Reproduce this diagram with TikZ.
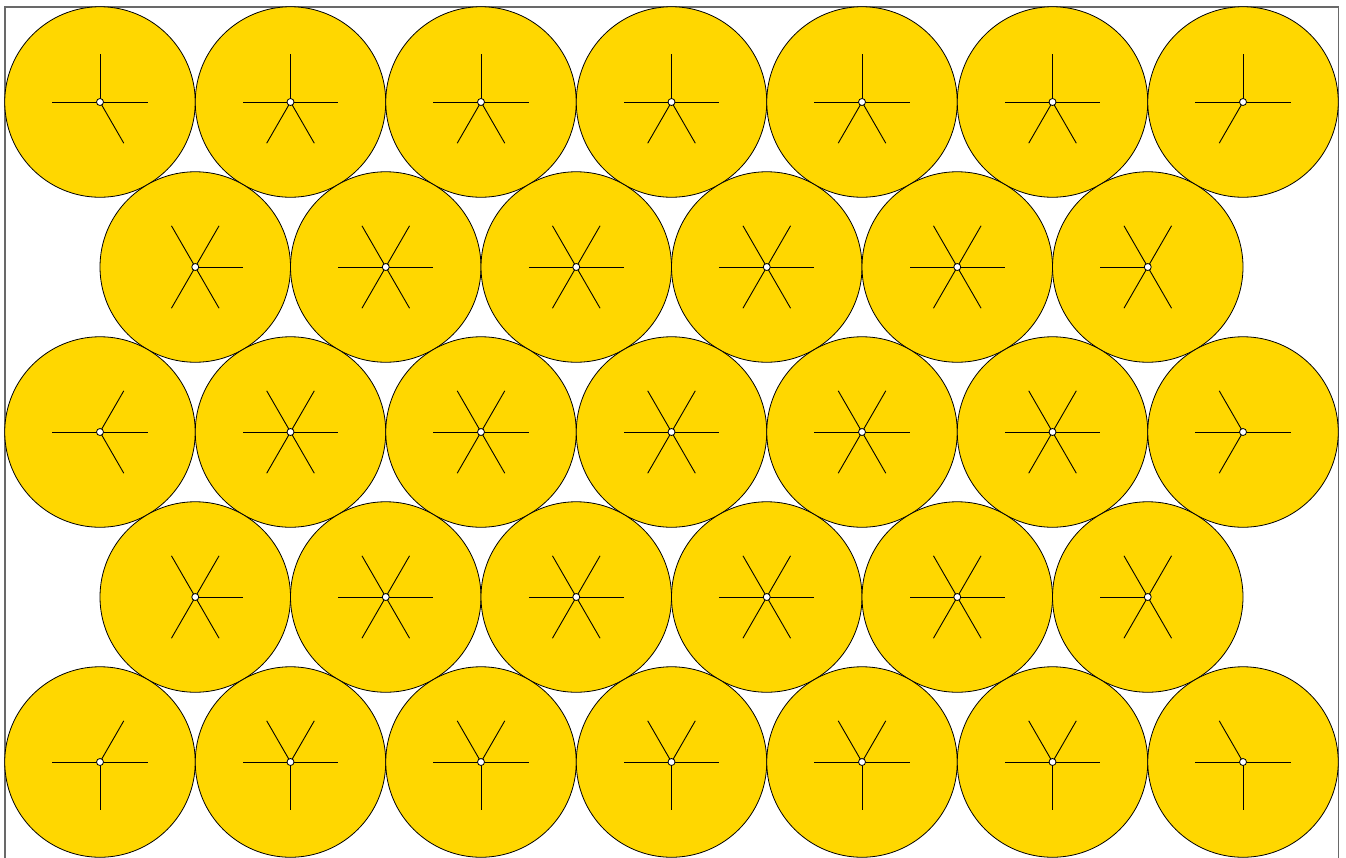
\documentclass[tikz,border=0pt]{standalone}
\usetikzlibrary{calc}
\definecolor{ballgold}{RGB}{255,215,0}
\definecolor{framegray}{RGB}{105,105,105}
\begin{document}
\begin{tikzpicture}[x=1pt,y=1pt,
  ball/.style={circle,draw=black,line width=0.8pt,fill=ballgold,minimum size=190.5pt,inner sep=0pt},
  spoke/.style={draw=black,line width=0.9pt},
  hub/.style={circle,draw=black,line width=0.8pt,fill=white,minimum size=7pt,inner sep=0pt},
  framebox/.style={draw=framegray,line width=1.2pt}]
\useasboundingbox (0,0) rectangle (1346,-857);
\coordinate (f1) at (5,-7);
\coordinate (f2) at (1338.5,-862);
\draw[framebox] (f1) rectangle (f2);
\foreach \r in {0,...,4}{
  \pgfmathtruncatemacro\odd{mod(\r,2)}
  \pgfmathtruncatemacro\ncol{\odd==1 ? 5 : 6}
  \foreach \c in {0,...,\ncol}{
    \pgfmathsetmacro\px{100+95.25*\odd+190.5*\c}
    \pgfmathsetmacro\py{-102-165*\r}
    \node[ball] (b\r-\c) at (\px,\py) {};
    \ifnum\odd=0
      \draw[spoke] (b\r-\c.center) -- ++(0:47.6);
      \draw[spoke] (b\r-\c.center) -- ++(180:47.6);
      \ifnum\r=0 \draw[spoke] (b\r-\c.center) -- ++(90:47.6);\fi
      \ifnum\r=4 \draw[spoke] (b\r-\c.center) -- ++(270:47.6);\fi
      \ifnum\r>0
        \ifnum\c>0 \draw[spoke] (b\r-\c.center) -- ++(120:47.6);\fi
        \ifnum\c<6 \draw[spoke] (b\r-\c.center) -- ++(60:47.6);\fi
      \fi
      \ifnum\r<4
        \ifnum\c>0 \draw[spoke] (b\r-\c.center) -- ++(240:47.6);\fi
        \ifnum\c<6 \draw[spoke] (b\r-\c.center) -- ++(300:47.6);\fi
      \fi
    \else
      \ifnum\c>0 \draw[spoke] (b\r-\c.center) -- ++(180:47.6);\fi
      \ifnum\c<5 \draw[spoke] (b\r-\c.center) -- ++(0:47.6);\fi
      \draw[spoke] (b\r-\c.center) -- ++(60:47.6);
      \draw[spoke] (b\r-\c.center) -- ++(120:47.6);
      \draw[spoke] (b\r-\c.center) -- ++(240:47.6);
      \draw[spoke] (b\r-\c.center) -- ++(300:47.6);
    \fi
    \node[hub] (h\r-\c) at (b\r-\c.center) {};
  }
}
\end{tikzpicture}
\end{document}
